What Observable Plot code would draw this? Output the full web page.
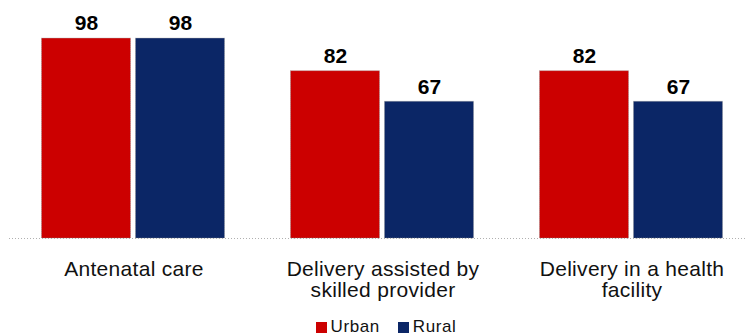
<!DOCTYPE html>
<html>
<head>
<meta charset="utf-8">
<script src="https://cdn.jsdelivr.net/npm/d3@7"></script>
<script src="https://cdn.jsdelivr.net/npm/@observablehq/plot@0.6"></script>
<style>
  html, body { margin: 0; padding: 0; background: #fff; }
  body { width: 746px; height: 335px; overflow: hidden; font-family: "Liberation Sans", Arial, sans-serif; }
  #chart svg text { font-family: "Liberation Sans", Arial, sans-serif; }
  #chart svg g[aria-label="fx-axis tick label"] text { letter-spacing: 0.3px; fill: #111; }
  .legend { position: absolute; left: 0; top: 320px; width: 746px; height: 14px; line-height: 14px; display: flex; justify-content: center; align-items: center; font-size: 17px; letter-spacing: 0.6px; color: #111; padding-left: 26px; box-sizing: border-box; }
  .legend span.sw { display: inline-block; width: 11px; height: 11px; margin-right: 4px; }
  .legend span.item { display: inline-flex; align-items: center; margin: 0 9px; }
</style>
</head>
<body>
<div id="chart"></div>
<div class="legend" id="legend"></div>
<script>
const categories = ["Antenatal care", "Delivery assisted by skilled provider", "Delivery in a health facility"];
const categoryLabels = ["Antenatal care", "Delivery assisted by\nskilled provider", "Delivery in a health\nfacility"];
const seriesNames = ["Urban", "Rural"];
const urban = [98, 82, 82];
const rural = [98, 67, 67];
const colors = ["#CC0000", "#0B2666"];

const data = [];
categories.forEach((c, i) => {
  data.push({category: c, series: "Urban", value: urban[i]});
  data.push({category: c, series: "Rural", value: rural[i]});
});
const labelOf = Object.fromEntries(categories.map((c, i) => [c, categoryLabels[i]]));

const chart = Plot.plot({
  width: 746,
  height: 314,
  marginTop: 34,
  marginBottom: 76,
  marginLeft: 8.5,
  marginRight: 0,
  fx: {domain: categories, range: [8.5, 755.5], padding: 0, label: null},
  x: {domain: seriesNames, paddingInner: 0.053, paddingOuter: 0.35, axis: null},
  y: {domain: [0, 100], axis: null},
  color: {domain: seriesNames, range: colors},
  marks: [
    Plot.barY(data, {fx: "category", x: "series", y: "value", fill: "series", stroke: "#8a8a8a", strokeWidth: 0.6, strokeDasharray: "1,1"}),
    Plot.ruleY([0], {stroke: "#b0b0b0", strokeWidth: 1, strokeDasharray: "1,2"}),
    Plot.text(data, {fx: "category", x: "series", y: "value", text: d => String(d.value), dy: -15, fontSize: 21, fontWeight: "bold", fill: "#000"}),
    Plot.axisFx({anchor: "bottom", tickSize: 0, tickPadding: 22, fontSize: 21, lineHeight: 1.03, tickFormat: d => labelOf[d], label: null})
  ]
});
document.getElementById("chart").appendChild(chart);

const legend = document.getElementById("legend");
seriesNames.forEach((s, i) => {
  const item = document.createElement("span");
  item.className = "item";
  const sw = document.createElement("span");
  sw.className = "sw";
  sw.style.background = colors[i];
  item.appendChild(sw);
  item.appendChild(document.createTextNode(s));
  legend.appendChild(item);
});
</script>
</body>
</html>
